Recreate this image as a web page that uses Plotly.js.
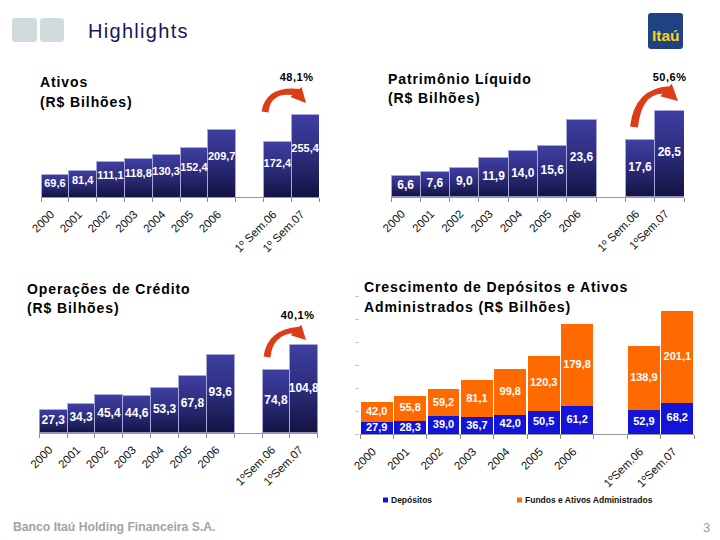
<!DOCTYPE html>
<html><head><meta charset="utf-8">
<script src="https://cdn.plot.ly/plotly-3.0.1.min.js"></script>
<style>
html,body{margin:0;padding:0;background:#fff;overflow:hidden;}
#chart{width:720px;height:540px;}
.subplot.xy .barlayer .point path,
.subplot.x2y2 .barlayer .point path,
.subplot.x3y3 .barlayer .point path{fill:url(#navyGrad) !important;}
</style>
</head><body>
<svg width="0" height="0" style="position:absolute"><defs>
<linearGradient id="navyGrad" x1="0" y1="0" x2="0" y2="1">
<stop offset="0" stop-color="#3f3fa2"/><stop offset="0.5" stop-color="#2c2c7c"/><stop offset="1" stop-color="#131342"/>
</linearGradient>
</defs></svg>
<div id="chart"></div>
<script>
// ---------- data ----------
const years = ['2000','2001','2002','2003','2004','2005','2006'];
const semAtivos = ['1º Sem.06','1º Sem.07'];
const semPL = ['1º Sem.06','1ºSem.07'];
const semCred = ['1ºSem.06','1ºSem.07'];
const semDep = ['1ºSem.06','1ºSem.07'];
const ativos = [69.6,81.4,111.1,118.8,130.3,152.4,209.7,172.4,255.4];
const patrimonio = [6.6,7.6,9.0,11.9,14.0,15.6,23.6,17.6,26.5];
const credito = [27.3,34.3,45.4,44.6,53.3,67.8,93.6,74.8,104.8];
const depositos = [27.9,28.3,39.0,36.7,42.0,50.5,61.2,52.9,68.2];
const fundos = [42.0,55.8,59.2,81.1,99.8,120.3,179.8,138.9,201.1];
const growth = ['48,1%','50,6%','40,1%'];

// ---------- helpers ----------
const W = 720, H = 540;
const px = x => x / W, py = y => 1 - y / H;
const fmt = v => v.toFixed(1).replace('.', ',');
const FONT = 'Liberation Sans, Arial, sans-serif';
const cats1 = years.concat(semAtivos), cats2 = years.concat(semPL),
      cats3 = years.concat(semCred), cats4 = years.concat(semDep);
const withGap = c => c.slice(0, 7).concat([' '], c.slice(7));

function xax(x0, x1, cats, anchor) {
  return {domain:[px(x0), px(x1)], anchor, type:'category', categoryorder:'array',
    categoryarray: withGap(cats), range:[-0.5, 9.5], tickson:'boundaries',
    ticks:'outside', ticklen:4, tickwidth:1, tickcolor:'#8a8a8a',
    showline:true, linecolor:'#9a9a9a', linewidth:1, tickangle:-45,
    ticklabelstandoff:5, ticklabelshift:-4,
    tickfont:{family:FONT, size:11.5, color:'#111'}, showgrid:false, zeroline:false,
    fixedrange:true};
}
function yax(yBase, yTop, range, anchor, extra) {
  return Object.assign({domain:[py(yBase), py(yTop)], anchor, range, showgrid:false, zeroline:false,
    showticklabels:false, showline:false, ticks:'', fixedrange:true}, extra || {});
}

function navyBars(cats, vals, xa, ya) {
  return {type:'bar', x:cats, y:vals, xaxis:xa, yaxis:ya,
    marker:{color:'#2c2c7c', line:{color:'#a8a8dc', width:1}},
    hoverinfo:'skip', showlegend:false};
}
function labels(cats, vals, pos, xa, ya, size) {
  return {type:'scatter', mode:'text', x:cats, y:vals.map((v,i)=>pos[i]), text:vals.map(fmt),
    textposition:'middle center', cliponaxis:false, xaxis:xa, yaxis:ya,
    textfont:{family:FONT, size, color:'#ffffff', weight:'bold'},
    hoverinfo:'skip', showlegend:false};
}

const traces = [
  navyBars(cats1, ativos, 'x', 'y'),
  labels(cats1, ativos, ativos.map(v=>v*0.58), 'x', 'y', 11),
  navyBars(cats2, patrimonio, 'x2', 'y2'),
  labels(cats2, patrimonio, patrimonio.map(v=>v/2), 'x2', 'y2', 12),
  navyBars(cats3, credito, 'x3', 'y3'),
  labels(cats3, credito, credito.map(v=>v/2), 'x3', 'y3', 12),
  {type:'bar', name:'Depósitos', x:cats4, y:depositos, xaxis:'x4', yaxis:'y4', width:0.955,
   marker:{color:'#1414d8'}, hoverinfo:'skip', showlegend:false},
  {type:'bar', name:'Fundos e Ativos Administrados', x:cats4, y:fundos, xaxis:'x4', yaxis:'y4', width:0.955,
   marker:{color:'#ff6a00'}, hoverinfo:'skip', showlegend:false},
  labels(cats4, depositos, depositos.map(v=>v/2), 'x4', 'y4', 11),
  labels(cats4, fundos, fundos.map((v,i)=>depositos[i]+v/2), 'x4', 'y4', 11)
];

// ---------- annotations ----------
function ann(text, x, y, o) {
  o = o || {};
  return {text, x:px(x), y:py(y), xref:'paper', yref:'paper', showarrow:false,
    xanchor:o.xanchor || 'left', yanchor:'middle', align:o.xanchor === 'center' ? 'center' : 'left',
    font:{family:o.family || FONT, size:o.size || 14, color:o.color || '#000', weight:o.weight || 'normal'}};
}
const spaced = [];
const annotations = [];
function add(a, spacing) { if (spacing) spaced.push([annotations.length, spacing]); annotations.push(a); }
add(ann('Highlights', 86, 31, {size:20, color:'#16165c'}), 1.3);
add(ann('Ativos', 38, 82, {weight:'bold'}), 0.9);
add(ann('(R$ Bilhões)', 38, 102, {weight:'bold'}), 0.9);
add(ann('Patrimônio Líquido', 386, 79, {weight:'bold'}), 0.9);
add(ann('(R$ Bilhões)', 386, 98, {weight:'bold'}), 0.9);
add(ann('Operações de Crédito', 25, 289, {weight:'bold'}), 0.9);
add(ann('(R$ Bilhões)', 25, 308, {weight:'bold'}), 0.9);
add(ann('Crescimento de Depósitos e Ativos', 362, 287, {weight:'bold'}), 0.9);
add(ann('Administrados (R$ Bilhões)', 362, 307, {weight:'bold'}), 0.9);
add(ann(growth[0], 296, 77, {xanchor:'center', size:11, weight:'bold'}), 0.5);
add(ann(growth[1], 669, 77, {xanchor:'center', size:11, weight:'bold'}), 0.5);
add(ann(growth[2], 297, 315, {xanchor:'center', size:11, weight:'bold'}), 0.5);
add(ann('Itaú', 666, 36, {xanchor:'center', size:15.5, weight:'bold', color:'#f8d21c'}));
add(ann('Banco Itaú Holding Financeira S.A.', 11, 527, {size:12.2, weight:'bold', color:'#a3a3a3'}));
add(ann('3', 706, 527, {xanchor:'center', size:13, color:'#9a9a9a'}));
add(ann('Depósitos', 389, 500, {size:8.5, weight:'bold', color:'#111'}));
add(ann('Fundos e Ativos Administrados', 522.5, 500, {size:8.5, weight:'bold', color:'#111'}));

// letter spacing for the slide titles
const css = spaced.map(([i,s]) => `g.annotation[data-index="${i}"] text{letter-spacing:${s}px;}`).join('\n');
const st = document.createElement('style'); st.textContent = css; document.head.appendChild(st);

// ---------- shapes ----------
const P = (x,y) => `${px(x)},${py(y)}`;
function roundRect(x0,y0,x1,y1,r) {
  return `M${P(x0+r,y0)} L${P(x1-r,y0)} Q${P(x1,y0)} ${P(x1,y0+r)} L${P(x1,y1-r)} Q${P(x1,y1)} ${P(x1-r,y1)} ` +
         `L${P(x0+r,y1)} Q${P(x0,y1)} ${P(x0,y1-r)} L${P(x0,y0+r)} Q${P(x0,y0)} ${P(x0+r,y0)} Z`;
}
function arrowPath(T, C, E, Hd, w0, w1, hw) {
  const nrm = (dx,dy) => { const l = Math.hypot(dx,dy); return [-dy/l, dx/l]; };
  const n0 = nrm(C[0]-T[0], C[1]-T[1]);
  const nc = nrm(E[0]-T[0], E[1]-T[1]);
  const n1 = nrm(Hd[0]-E[0], Hd[1]-E[1]);
  const wc = (w0+w1)/2;
  const o = (p,n,w) => P(p[0]+n[0]*w, p[1]+n[1]*w);
  return `M${o(T,n0,w0)} Q${o(C,nc,wc)} ${o(E,n1,w1)} L${o(E,n1,hw)} L${P(Hd[0],Hd[1])} L${o(E,n1,-hw)} ` +
         `L${o(E,n1,-w1)} Q${o(C,nc,-wc)} ${o(T,n0,-w0)} Z`;
}
const shp = (path, color) => ({type:'path', xref:'paper', yref:'paper', path, fillcolor:color, line:{width:0}, layer:'above'});
const shapes = [
  shp(roundRect(12,18,37,42,3), '#cfdcdb'),
  shp(roundRect(40,18,64,42,3), '#cfdcdb'),
  shp(roundRect(648,13,683,49,3), '#1e4282'),
  shp(arrowPath([265,112],[268,89],[296,92],[306,103],3.5,4.5,7.5), '#de3b17'),
  shp(arrowPath([634,127],[638,91],[666,90],[678,101],4,5,8.5), '#de3b17'),
  shp(arrowPath([267,357],[270,332],[296,330],[306,340],3.5,4.5,7.5), '#de3b17'),
  {type:'rect', xref:'paper', yref:'paper', x0:px(383), x1:px(388), y0:py(502.5), y1:py(497.5), fillcolor:'#1414d8', line:{width:0}},
  {type:'rect', xref:'paper', yref:'paper', x0:px(517), x1:px(522), y0:py(502.5), y1:py(497.5), fillcolor:'#ff6a00', line:{width:0}}
];

const layout = {
  width:W, height:H, margin:{l:0,r:0,t:0,b:0}, paper_bgcolor:'#fff', plot_bgcolor:'rgba(0,0,0,0)',
  barmode:'stack', bargap:0, showlegend:false, font:{family:FONT},
  xaxis: xax(41, 319, cats1, 'y'),   yaxis: yax(197, 99.9, [0,300], 'x'),
  xaxis2: xax(391, 684, cats2, 'y2'), yaxis2: yax(196.7, 98.6, [0,30], 'x2'),
  xaxis3: xax(39.3, 317.7, cats3, 'y3'), yaxis3: yax(432.7, 331.9, [0,120], 'x3'),
  xaxis4: xax(360, 694, cats4, 'y4'),
  yaxis4: yax(434.3, 296.9, [0,300], 'x4', {ticks:'outside', ticklen:4, tickcolor:'#c4c4c4', tick0:0, dtick:50}),
  annotations, shapes
};
Plotly.newPlot('chart', traces, layout, {staticPlot:true, displayModeBar:false});
</script>
</body></html>
